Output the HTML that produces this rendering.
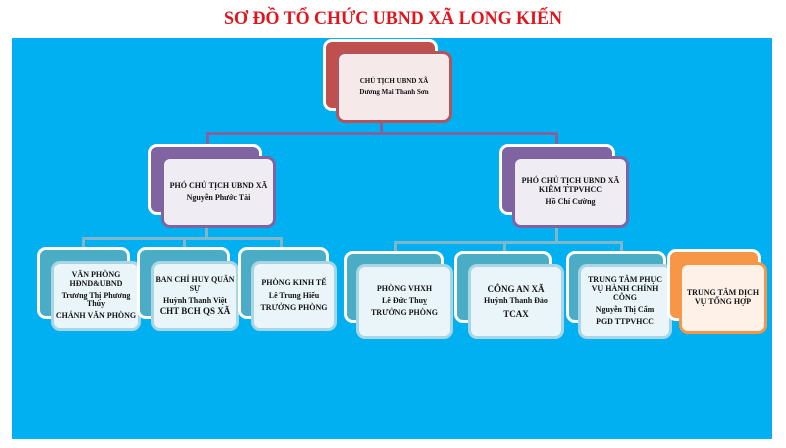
<!DOCTYPE html>
<html><head><meta charset="utf-8"><style>
body{margin:0;width:786px;height:448px;background:#fff;position:relative;overflow:hidden;font-family:"Liberation Serif",serif}
.a{position:absolute;box-sizing:border-box}
.bk{border:3px solid #fff;border-radius:9px}
.fr{border-radius:9px;display:flex;flex-direction:column;align-items:center;justify-content:center;text-align:center;font-weight:bold;color:#111;line-height:1.12}
.ln{position:absolute}
</style></head><body>
<svg class="a" style="left:0;top:0" width="786" height="38"><text x="393" y="24" text-anchor="middle" textLength="338" lengthAdjust="spacingAndGlyphs" font-family="Liberation Serif" font-weight="bold" font-size="19" fill="#e0141c">SƠ ĐỒ TỔ CHỨC UBND XÃ LONG KIẾN</text></svg>
<div class="a" style="left:12px;top:38px;width:760px;height:401px;background:#00b0f0"></div>

<div class="ln" style="left:380px;top:120px;width:3px;height:14px;background:#8064a2"></div>
<div class="ln" style="left:206px;top:132px;width:352px;height:3px;background:#8064a2"></div>
<div class="ln" style="left:206px;top:132px;width:3px;height:14px;background:#8064a2"></div>
<div class="ln" style="left:555px;top:132px;width:3px;height:14px;background:#8064a2"></div>

<div class="ln" style="left:205px;top:224px;width:3px;height:14px;background:#7fb6c9"></div>
<div class="ln" style="left:82px;top:237px;width:201px;height:3px;background:#7fb6c9"></div>
<div class="ln" style="left:82px;top:237px;width:3px;height:12px;background:#7fb6c9"></div>
<div class="ln" style="left:183px;top:237px;width:3px;height:12px;background:#7fb6c9"></div>
<div class="ln" style="left:280px;top:237px;width:3px;height:12px;background:#7fb6c9"></div>

<div class="ln" style="left:555px;top:224px;width:3px;height:18px;background:#7fb6c9"></div>
<div class="ln" style="left:394px;top:241px;width:229px;height:3px;background:#7fb6c9"></div>
<div class="ln" style="left:394px;top:241px;width:3px;height:12px;background:#7fb6c9"></div>
<div class="ln" style="left:503px;top:241px;width:3px;height:12px;background:#7fb6c9"></div>
<div class="ln" style="left:620px;top:241px;width:3px;height:12px;background:#7fb6c9"></div>

<div class="a bk" style="left:323px;top:39px;width:115px;height:72px;background:#c0504d"></div>
<div class="a fr" style="left:336px;top:51px;width:116px;height:72px;background:#f5e9ea;border:3px solid #b5535a;font-size:7px">CHỦ TỊCH UBND XÃ<br><span style="margin-top:3px">Dương Mai Thanh Sơn</span></div>

<div class="a bk" style="left:148px;top:144px;width:114px;height:71px;background:#8064a2"></div>
<div class="a fr" style="left:161px;top:156px;width:115px;height:72px;background:#efecf3;border:3px solid #8064a2;font-size:8px">PHÓ CHỦ TỊCH UBND XÃ<br><span style="margin-top:3px">Nguyễn Phước Tài</span></div>
<div class="a bk" style="left:499px;top:144px;width:116px;height:71px;background:#8064a2"></div>
<div class="a fr" style="left:512px;top:156px;width:117px;height:72px;background:#efecf3;border:3px solid #8064a2;font-size:8px">PHÓ CHỦ TỊCH UBND XÃ<br>KIÊM TTPVHCC<br><span style="margin-top:3px">Hồ Chí Cường</span></div>

<div class="a bk" style="left:37px;top:247px;width:93px;height:72px;background:#4bacc6"></div>
<div class="a fr" style="left:51px;top:261px;width:90px;height:70px;background:#eaf5f9;border:3px solid #a9d6e6;font-size:8px">VĂN PHÒNG<br>HĐND&amp;UBND<br><span style="margin-top:3px">Trương Thị Phương<br>Thùy</span><span style="margin-top:3px">CHÁNH VĂN PHÒNG</span></div>

<div class="a bk" style="left:137px;top:247px;width:93px;height:72px;background:#4bacc6"></div>
<div class="a fr" style="left:151px;top:261px;width:88px;height:70px;background:#eaf5f9;border:3px solid #a9d6e6;font-size:8px">BAN CHỈ HUY QUÂN<br>SỰ<br><span style="margin-top:3px">Huỳnh Thanh Việt</span><span style="font-size:9px">CHT BCH QS XÃ</span></div>

<div class="a bk" style="left:238px;top:247px;width:91px;height:72px;background:#4bacc6"></div>
<div class="a fr" style="left:251px;top:261px;width:86px;height:70px;background:#eaf5f9;border:3px solid #a9d6e6;font-size:8px">PHÒNG KINH TẾ<br><span style="margin-top:4px">Lê Trung Hiếu</span><span style="margin-top:3px">TRƯỞNG PHÒNG</span></div>

<div class="a bk" style="left:344px;top:251px;width:100px;height:72px;background:#4bacc6"></div>
<div class="a fr" style="left:356px;top:264px;width:97px;height:75px;background:#eaf5f9;border:3px solid #a9d6e6;font-size:8px">PHÒNG VHXH<br><span style="margin-top:3px">Lê Đức Thuỵ</span><span style="margin-top:3px">TRƯỞNG PHÒNG</span></div>

<div class="a bk" style="left:454px;top:251px;width:98px;height:72px;background:#4bacc6"></div>
<div class="a fr" style="left:468px;top:264px;width:96px;height:75px;background:#eaf5f9;border:3px solid #a9d6e6;font-size:8px"><span style="font-size:9px">CÔNG AN XÃ</span><span style="margin-top:3px">Huỳnh Thanh Đảo</span><span style="margin-top:3px;font-size:9px">TCAX</span></div>

<div class="a bk" style="left:566px;top:251px;width:100px;height:72px;background:#4bacc6"></div>
<div class="a fr" style="left:578px;top:264px;width:94px;height:75px;background:#eaf5f9;border:3px solid #a9d6e6;font-size:8px">TRUNG TÂM PHỤC<br>VỤ HÀNH CHÍNH<br>CÔNG<br><span style="margin-top:3px">Nguyễn Thị Cẩm</span><span style="margin-top:3px">PGD TTPVHCC</span></div>

<div class="a bk" style="left:667px;top:249px;width:94px;height:72px;background:#f79646"></div>
<div class="a fr" style="left:679px;top:262px;width:88px;height:72px;background:#fdf1e8;border:3px solid #f79646;font-size:8px">TRUNG TÂM DỊCH<br>VỤ TỔNG HỢP</div>
</body></html>
